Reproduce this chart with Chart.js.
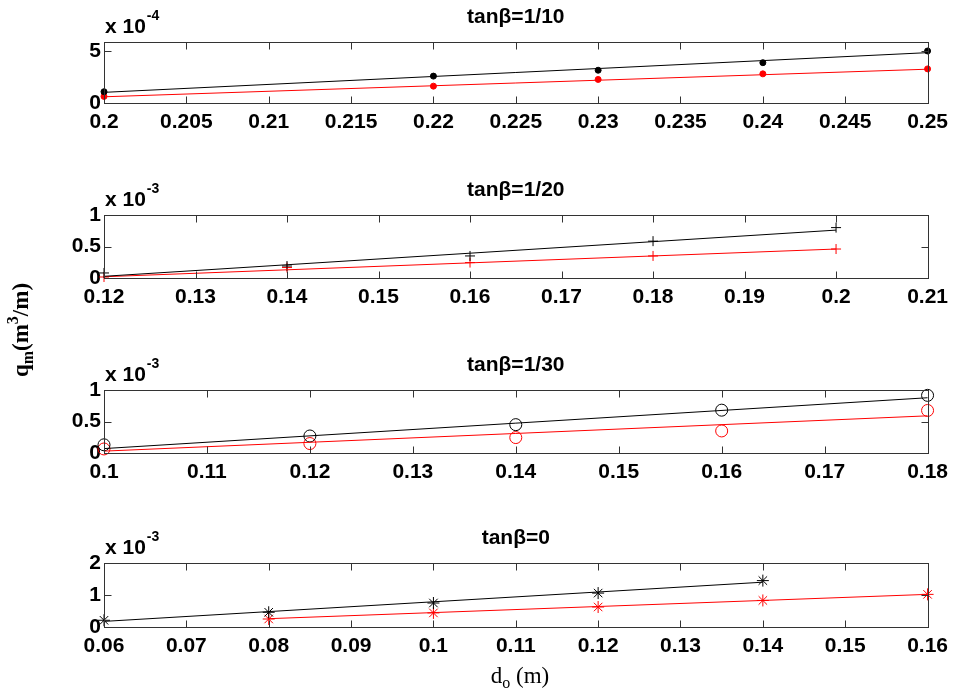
<!DOCTYPE html>
<html>
<head>
<meta charset="utf-8">
<script src="https://cdn.jsdelivr.net/npm/chart.js@4.4.0/dist/chart.umd.min.js"></script>
<style>
  html, body { margin:0; padding:0; background:#fff; }
  #wrap { position:relative; width:955px; height:692px; overflow:hidden; }
  #wrap canvas { position:absolute; left:0; top:0; }
</style>
</head>
<body>
<div id="wrap"></div>
<script>
// ---------------- DATA ----------------
// Panel 1: tanβ=1/10  (q values in units of 10^-4)
const p1Title = 'tanβ=1/10';
const p1Exp = '-4';
const p1X = [0.20, 0.22, 0.23, 0.24, 0.25];
const p1Black = [1.09, 2.60, 3.17, 3.90, 5.03];
const p1Red = [0.64, 1.63, 2.28, 2.82, 3.30];
const p1FitBlackX = [0.20, 0.25];
const p1FitBlackY = [1.03, 4.87];
const p1FitRedX = [0.20, 0.25];
const p1FitRedY = [0.60, 3.27];
const p1XTicks = [0.2, 0.205, 0.21, 0.215, 0.22, 0.225, 0.23, 0.235, 0.24, 0.245, 0.25];
const p1XLabels = ['0.2','0.205','0.21','0.215','0.22','0.225','0.23','0.235','0.24','0.245','0.25'];
const p1YTicks = [0, 5];
const p1YLabels = ['0', '5'];

// Panel 2: tanβ=1/20  (units of 10^-3)
const p2Title = 'tanβ=1/20';
const p2Exp = '-3';
const p2X = [0.12, 0.14, 0.16, 0.18, 0.20];
const p2Black = [0.08, 0.19, 0.35, 0.585, 0.80];
const p2Red = [0.016, 0.166, 0.245, 0.35, 0.46];
const p2FitBlackX = [0.12, 0.20];
const p2FitBlackY = [0.027, 0.76];
const p2FitRedX = [0.12, 0.20];
const p2FitRedY = [0.02, 0.46];
const p2XTicks = [0.12, 0.13, 0.14, 0.15, 0.16, 0.17, 0.18, 0.19, 0.20, 0.21];
const p2XLabels = ['0.12','0.13','0.14','0.15','0.16','0.17','0.18','0.19','0.2','0.21'];
const p2YTicks = [0, 0.5, 1];
const p2YLabels = ['0', '0.5', '1'];

// Panel 3: tanβ=1/30  (units of 10^-3)
const p3Title = 'tanβ=1/30';
const p3Exp = '-3';
const p3X = [0.10, 0.12, 0.14, 0.16, 0.18];
const p3Black = [0.13, 0.27, 0.45, 0.68, 0.915];
const p3Red = [0.064, 0.15, 0.245, 0.35, 0.675];
const p3FitBlackX = [0.10, 0.18];
const p3FitBlackY = [0.07, 0.877];
const p3FitRedX = [0.10, 0.18];
const p3FitRedY = [0.03, 0.59];
const p3XTicks = [0.10, 0.11, 0.12, 0.13, 0.14, 0.15, 0.16, 0.17, 0.18];
const p3XLabels = ['0.1','0.11','0.12','0.13','0.14','0.15','0.16','0.17','0.18'];
const p3YTicks = [0, 0.5, 1];
const p3YLabels = ['0', '0.5', '1'];

// Panel 4: tanβ=0  (units of 10^-3)
const p4Title = 'tanβ=0';
const p4Exp = '-3';
const p4BlackX = [0.06, 0.08, 0.10, 0.12, 0.14];
const p4Black = [0.21, 0.46, 0.75, 1.06, 1.45];
const p4RedX = [0.08, 0.10, 0.12, 0.14, 0.16];
const p4Red = [0.25, 0.44, 0.625, 0.83, 1.02];
const p4FitBlackX = [0.06, 0.14];
const p4FitBlackY = [0.175, 1.40];
const p4FitRedX = [0.08, 0.16];
const p4FitRedY = [0.26, 1.02];
const p4XTicks = [0.06, 0.07, 0.08, 0.09, 0.10, 0.11, 0.12, 0.13, 0.14, 0.15, 0.16];
const p4XLabels = ['0.06','0.07','0.08','0.09','0.1','0.11','0.12','0.13','0.14','0.15','0.16'];
const p4YTicks = [0, 1, 2];
const p4YLabels = ['0', '1', '2'];

const yAxisTitle = ['q', 'm', '(m', '3', '/m)'];
const xAxisTitle = ['d', 'o', ' (m)'];

// ---------------- RENDER ----------------
const W = 955, H = 692;
const SANS = '"Liberation Sans", Arial, sans-serif';
const SERIF = '"Liberation Serif", "Times New Roman", serif';
const zip = (xs, ys) => xs.map((x, i) => ({ x: x, y: ys[i] }));

const framePlugin = {
  id: 'frame',
  afterDraw(chart, args, opts) {
    const ctx = chart.ctx;
    const a = chart.chartArea;
    const xs = chart.scales.x, ys = chart.scales.y;
    ctx.save();
    ctx.strokeStyle = '#333';
    ctx.lineWidth = 1;
    const L = Math.round(a.left) + 0.5, R = Math.round(a.right) + 0.5;
    const T = Math.round(a.top) + 0.5, B = Math.round(a.bottom) + 0.5;
    ctx.strokeRect(L, T, R - L, B - T);
    const tl = 7;
    ctx.beginPath();
    opts.xTicks.forEach(v => {
      const px = Math.round(xs.getPixelForValue(v)) + 0.5;
      ctx.moveTo(px, B); ctx.lineTo(px, B - tl);
      ctx.moveTo(px, T); ctx.lineTo(px, T + tl);
    });
    opts.yTicks.forEach(v => {
      const py = Math.round(ys.getPixelForValue(v)) + 0.5;
      ctx.moveTo(L, py); ctx.lineTo(L + tl, py);
      ctx.moveTo(R, py); ctx.lineTo(R - tl, py);
    });
    ctx.stroke();

    // title
    ctx.fillStyle = '#000';
    ctx.font = 'bold 21px ' + SANS;
    ctx.textAlign = 'center';
    ctx.textBaseline = 'alphabetic';
    ctx.fillText(opts.title, (a.left + a.right) / 2, a.top - 19);

    // exponent label
    ctx.textAlign = 'left';
    ctx.font = 'bold 21px ' + SANS;
    const base = 'x 10';
    ctx.fillText(base, a.left + 1, a.top - 9);
    const bw = ctx.measureText(base).width;
    ctx.font = 'bold 14px ' + SANS;
    ctx.fillText(opts.exp, a.left + 1 + bw + 1, a.top - 22);

    if (opts.axisTitles) {
      // y axis title (rotated)
      ctx.save();
      ctx.translate(28, 330);
      ctx.rotate(-Math.PI / 2);
      const parts = [
        { t: yAxisTitle[0], f: 'bold 23px ' + SERIF, dy: 0 },
        { t: yAxisTitle[1], f: 'bold 16px ' + SERIF, dy: 5 },
        { t: yAxisTitle[2], f: 'bold 23px ' + SERIF, dy: 0 },
        { t: yAxisTitle[3], f: 'bold 16px ' + SERIF, dy: -10 },
        { t: yAxisTitle[4], f: 'bold 23px ' + SERIF, dy: 0 }
      ];
      let tot = 0;
      parts.forEach(p => { ctx.font = p.f; p.w = ctx.measureText(p.t).width; tot += p.w; });
      let cx = -tot / 2;
      ctx.textAlign = 'left';
      parts.forEach(p => { ctx.font = p.f; ctx.fillText(p.t, cx, p.dy); cx += p.w; });
      ctx.restore();

      // x axis title
      const xp = [
        { t: xAxisTitle[0], f: '23px ' + SERIF, dy: 0 },
        { t: xAxisTitle[1], f: '16px ' + SERIF, dy: 5 },
        { t: xAxisTitle[2], f: '23px ' + SERIF, dy: 0 }
      ];
      let tw = 0;
      xp.forEach(p => { ctx.font = p.f; p.w = ctx.measureText(p.t).width; tw += p.w; });
      let x0 = 520 - tw / 2;
      xp.forEach(p => { ctx.font = p.f; ctx.fillText(p.t, x0, 683 + p.dy); x0 += p.w; });
    }
    ctx.restore();
  }
};

function makePanel(cfg) {
  const canvas = document.createElement('canvas');
  canvas.width = W; canvas.height = H;
  canvas.style.width = W + 'px'; canvas.style.height = H + 'px';
  document.getElementById('wrap').appendChild(canvas);
  const tickFont = { family: SANS, size: 21, weight: 'bold' };
  const marker = (data, color) => ({
    data: data, showLine: false, clip: false,
    pointStyle: cfg.style, pointRadius: cfg.radius,
    pointBorderColor: color, pointBorderWidth: 1,
    pointBackgroundColor: cfg.filled ? color : 'rgba(0,0,0,0)'
  });
  const fit = (data, color) => ({
    data: data, showLine: true, clip: false, borderColor: color, borderWidth: 1,
    pointRadius: 0, fill: false, tension: 0
  });
  new Chart(canvas.getContext('2d'), {
    type: 'scatter',
    data: {
      datasets: [
        fit(cfg.fitBlack, '#000000'),
        fit(cfg.fitRed, '#ff0000'),
        marker(cfg.black, '#000000'),
        marker(cfg.red, '#ff0000')
      ]
    },
    options: {
      responsive: false, animation: false, devicePixelRatio: 1,
      layout: { padding: { left: 0, right: 25, top: cfg.top, bottom: H - cfg.bottom - 30 } },
      plugins: {
        legend: { display: false }, tooltip: { enabled: false }, title: { display: false },
        frame: { xTicks: cfg.xTicks, yTicks: cfg.yTicks, title: cfg.title, exp: cfg.exp, axisTitles: !!cfg.axisTitles }
      },
      scales: {
        x: {
          type: 'linear', min: cfg.xTicks[0], max: cfg.xTicks[cfg.xTicks.length - 1],
          afterBuildTicks: s => { s.ticks = cfg.xTicks.map(v => ({ value: v })); },
          afterFit: s => { s.height = 30; },
          ticks: { callback: (v, i) => cfg.xLabels[i], font: tickFont, color: '#000', padding: 7, maxRotation: 0, autoSkip: false },
          grid: { display: false, drawTicks: false }, border: { display: false }
        },
        y: {
          type: 'linear', min: cfg.yMin, max: cfg.yMax,
          afterBuildTicks: s => { s.ticks = cfg.yTicks.map(v => ({ value: v })); },
          afterFit: s => { s.width = 104; },
          ticks: { callback: (v, i) => cfg.yLabels[i], font: tickFont, color: '#000', padding: 3, autoSkip: false },
          grid: { display: false, drawTicks: false }, border: { display: false }
        }
      }
    },
    plugins: [framePlugin]
  });
}

makePanel({
  top: 42, bottom: 103, title: p1Title, exp: p1Exp,
  fitBlack: zip(p1FitBlackX, p1FitBlackY), fitRed: zip(p1FitRedX, p1FitRedY),
  black: zip(p1X, p1Black), red: zip(p1X, p1Red),
  style: 'circle', radius: 3, filled: true,
  xTicks: p1XTicks, xLabels: p1XLabels, yTicks: p1YTicks, yLabels: p1YLabels, yMin: 0, yMax: 5.9
});
makePanel({
  top: 215, bottom: 278, title: p2Title, exp: p2Exp,
  fitBlack: zip(p2FitBlackX, p2FitBlackY), fitRed: zip(p2FitRedX, p2FitRedY),
  black: zip(p2X, p2Black), red: zip(p2X, p2Red),
  style: 'cross', radius: 5, filled: false,
  xTicks: p2XTicks, xLabels: p2XLabels, yTicks: p2YTicks, yLabels: p2YLabels, yMin: 0, yMax: 1
});
makePanel({
  top: 390, bottom: 453, title: p3Title, exp: p3Exp,
  fitBlack: zip(p3FitBlackX, p3FitBlackY), fitRed: zip(p3FitRedX, p3FitRedY),
  black: zip(p3X, p3Black), red: zip(p3X, p3Red),
  style: 'circle', radius: 6, filled: false,
  xTicks: p3XTicks, xLabels: p3XLabels, yTicks: p3YTicks, yLabels: p3YLabels, yMin: 0, yMax: 1
});
makePanel({
  top: 563, bottom: 627, title: p4Title, exp: p4Exp, axisTitles: true,
  fitBlack: zip(p4FitBlackX, p4FitBlackY), fitRed: zip(p4FitRedX, p4FitRedY),
  black: zip(p4BlackX, p4Black), red: zip(p4RedX, p4Red),
  style: 'star', radius: 6, filled: false,
  xTicks: p4XTicks, xLabels: p4XLabels, yTicks: p4YTicks, yLabels: p4YLabels, yMin: 0, yMax: 2
});
</script>
</body>
</html>
